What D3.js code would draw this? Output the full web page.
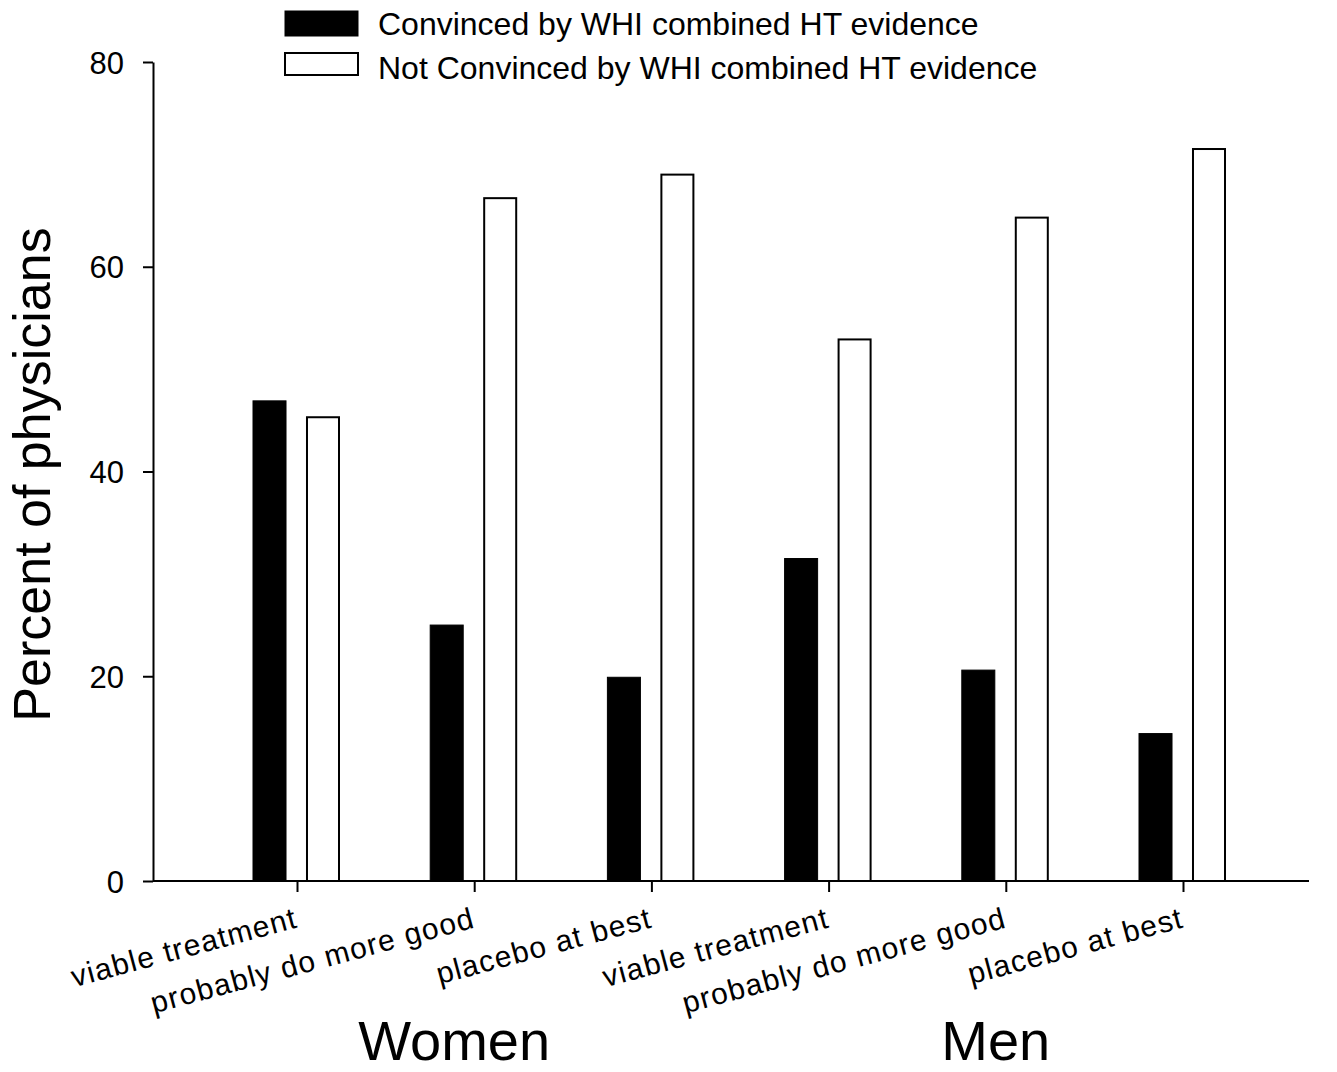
<!DOCTYPE html>
<html><head><meta charset="utf-8">
<script src="https://cdn.jsdelivr.net/npm/d3@7"></script>
<style>body{margin:0;background:#fff}svg{display:block}text{font-family:Arial,"Liberation Sans",sans-serif;fill:#000}</style>
</head><body><svg id="c" width="1337" height="1072"></svg>
<script>
const categories = ["viable treatment","probably do more good","placebo at best","viable treatment","probably do more good","placebo at best"];
const groups = ["Women","Men"];
const seriesNames = ["Convinced by WHI combined HT evidence","Not Convinced by WHI combined HT evidence"];
const convinced = [46.9, 25.0, 19.9, 31.5, 20.6, 14.4];
const notConvinced = [45.3, 66.7, 69.0, 52.9, 64.8, 71.5];
const yTicks = [0, 20, 40, 60, 80];
const yTitle = "Percent of physicians";

const svg = d3.select("#c");
const idx = categories.map((d,i)=>i);
const x0 = d3.scalePoint().domain(idx).range([297, 1183]);
const x1 = d3.scaleBand().domain([0,1]).range([-44, 42]).paddingInner(0.377).paddingOuter(0);
const y = d3.scaleLinear().domain([0, 80]).range([881, 62]);
const axisLeft = 153, axisRight = 1309;

// bars
const series = [convinced, notConvinced];
series.forEach((vals, s) => {
  svg.append("g").selectAll("rect").data(vals).join("rect")
    .attr("x", (d,i)=>x0(i)+x1(s) + (s===1?1:0))
    .attr("y", d=>y(d))
    .attr("width", x1.bandwidth() - (s===1?1:0))
    .attr("height", d=>y(0)-y(d))
    .attr("fill", s===0 ? "#000" : "#fff")
    .attr("stroke", "#000")
    .attr("stroke-width", s===0 ? 1 : 2);
});

// y axis
const ya = svg.append("g").attr("transform", `translate(${axisLeft},0)`)
  .call(d3.axisLeft(y).tickValues(yTicks).tickSize(10).tickPadding(19).tickSizeOuter(0));
ya.select(".domain").attr("stroke-width", 2);
ya.selectAll(".tick line").attr("stroke-width", 2);
ya.selectAll(".tick text").style("font-size", "31px").attr("dy", "0.36em");

// x axis
const xa = svg.append("g").attr("transform", `translate(0,${y(0)})`)
  .call(d3.axisBottom(x0).tickSize(11).tickFormat(""));
xa.select(".domain").attr("d", `M${axisLeft},0H${axisRight}`).attr("stroke-width", 2);
xa.selectAll(".tick line").attr("stroke-width", 2);

// x tick labels rotated
svg.append("g").selectAll("text").data(categories).join("text")
  .attr("transform", (d,i)=>`translate(${x0(i)+2},${y(0)+46}) rotate(-15)`)
  .attr("text-anchor", "end")
  .style("font-size", "30px")
  .style("letter-spacing", "1.2px")
  .text(d=>d);

// group labels
const groupCenters = [x0(1)-20, x0(4)-10];
svg.append("g").selectAll("text").data(groups).join("text")
  .attr("x", (d,i)=>groupCenters[i])
  .attr("y", 1060)
  .attr("text-anchor", "middle")
  .style("font-size", "56px")
  .text(d=>d);

// y title
svg.append("text")
  .attr("transform", `translate(50,${(y(0)+y(80))/2 + 3}) rotate(-90)`)
  .attr("text-anchor", "middle")
  .style("font-size", "52px")
  .text(yTitle);

// legend
const lg = svg.append("g");
seriesNames.forEach((n, i) => {
  lg.append("rect").attr("x", 285).attr("y", i===0 ? 11 : 53).attr("width", 73).attr("height", i===0 ? 25 : 22)
    .attr("fill", i===0?"#000":"#fff").attr("stroke","#000").attr("stroke-width", i===0?1:2);
  lg.append("text").attr("x", 378).attr("y", 35 + i*44).style("font-size", "32px").text(n);
});
</script></body></html>
